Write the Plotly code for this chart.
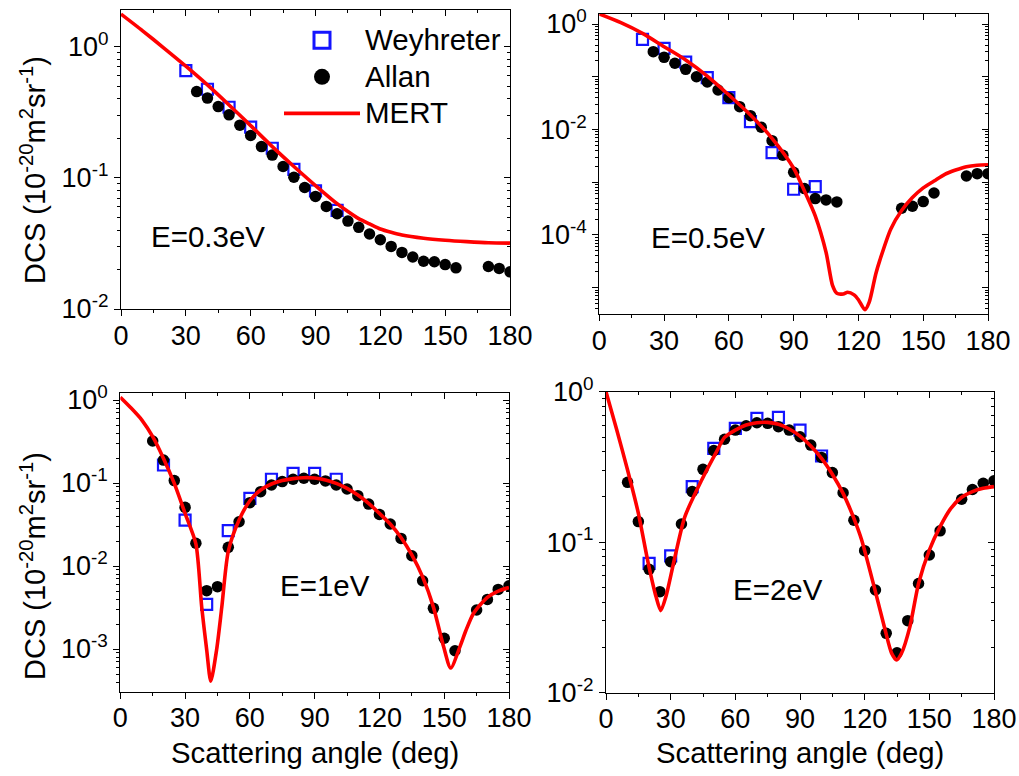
import plotly.graph_objects as go

W, H = 1019, 776
FONT = "Arial, Liberation Sans, sans-serif"

# ---------------- data ----------------
# E = 0.3 eV
w03_ang = [30, 40, 50, 60, 70, 80, 90, 100]
w03_dcs = [0.656, 0.473, 0.345, 0.243, 0.168, 0.116, 0.0796, 0.0564]
a03_ang = [35, 40, 45, 50, 55, 60, 65, 70, 75, 80, 85, 90, 95, 100, 105, 110, 115, 120,
           125, 130, 135, 140, 145, 150, 155, 170, 175, 180]
a03_dcs = [0.454, 0.405, 0.349, 0.302, 0.252, 0.210, 0.173, 0.149, 0.122, 0.101, 0.0844,
           0.0721, 0.0605, 0.0532, 0.0468, 0.0419, 0.0373, 0.0337, 0.0300, 0.0270, 0.0249,
           0.0231, 0.0229, 0.0218, 0.0206, 0.0211, 0.0204, 0.0192]
m03_ang = [0, 10, 20, 30, 40, 50, 60, 70, 80, 90, 100, 105, 110, 115, 120, 125, 130, 140,
           150, 160, 170, 180]
m03_dcs = [1.77, 1.32, 0.971, 0.71, 0.511, 0.359, 0.250, 0.173, 0.122, 0.0873, 0.0635,
           0.0553, 0.0488, 0.0445, 0.0407, 0.0384, 0.0366, 0.0346, 0.0334, 0.0326, 0.0320,
           0.0318]

# E = 0.5 eV
w05_ang = [20, 30, 40, 50, 60, 70, 80, 90, 100]
w05_dcs = [0.512, 0.346, 0.190, 0.0961, 0.0401, 0.0141, 0.00364, 7.34e-4, 8.24e-4]
a05_ang = [25, 30, 35, 40, 45, 50, 55, 60, 65, 70, 75, 80, 85, 90, 95, 100, 105, 110,
           140, 145, 150, 155, 170, 175, 180]
a05_dcs = [0.299, 0.233, 0.180, 0.138, 0.100, 0.0794, 0.0561, 0.0401, 0.0271, 0.0183,
           0.0110, 0.00614, 0.00324, 0.00154, 7.55e-4, 4.88e-4, 4.61e-4, 4.22e-4,
           3.20e-4, 3.50e-4, 4.29e-4, 6.25e-4, 1.31e-3, 1.45e-3, 1.45e-3]
m05_ang = [0, 10, 20, 30, 40, 50, 60, 70, 80, 90, 95, 100, 105, 108, 110, 113, 115, 118,
           120, 123, 125, 128, 130, 135, 140, 145, 150, 155, 160, 165, 170, 175, 180]
m05_dcs = [1.55, 1.06, 0.665, 0.372, 0.208, 0.103, 0.0451, 0.0188, 0.0068, 0.00184,
           6.8e-4, 2.3e-4, 4.7e-5, 1.1e-5, 7.8e-6, 7.6e-6, 8.2e-6, 7.3e-6, 5.9e-6, 3.8e-6,
           5.3e-6, 1.8e-5, 3.4e-5, 1.3e-4, 2.9e-4, 5.1e-4, 7.8e-4, 1.05e-3, 1.41e-3,
           1.70e-3, 1.97e-3, 2.10e-3, 2.14e-3]

# E = 1 eV
w1_ang = [20, 30, 40, 50, 60, 70, 80, 90, 100]
w1_dcs = [0.165, 0.0358, 3.45e-3, 0.0267, 0.0653, 0.111, 0.131, 0.131, 0.111]
a1_ang = [15, 20, 25, 30, 35, 40, 45, 50, 55, 60, 65, 70, 75, 80, 85, 90, 95, 100, 105,
          110, 115, 120, 125, 130, 135, 140, 145, 150, 155, 165, 170, 175, 180]
a1_dcs = [0.321, 0.189, 0.107, 0.0509, 0.0188, 5.05e-3, 5.64e-3, 0.0168, 0.0342, 0.0580,
          0.0787, 0.0946, 0.104, 0.111, 0.114, 0.111, 0.106, 0.0946, 0.0847, 0.0704,
          0.0558, 0.0419, 0.0321, 0.0215, 0.0133, 6.65e-3, 3.09e-3, 1.35e-3, 9.55e-4,
          2.95e-3, 3.96e-3, 5.23e-3, 5.79e-3]
m1_ang = [0, 5, 10, 15, 20, 25, 30, 35, 37.7, 40, 41.9, 44.6, 47, 50, 55, 60, 65, 70, 75,
          80, 85, 90, 95, 100, 105, 110, 115, 120, 125, 130, 135, 140, 145, 149.7, 153,
          157.3, 160, 163.6, 170, 175, 180]
m1_dcs = [1.08, 0.80, 0.574, 0.362, 0.198, 0.099, 0.0431, 0.0185, 3.2e-3, 9.8e-4, 4.1e-4,
          9.8e-4, 3.2e-3, 0.0150, 0.0358, 0.0612, 0.0824, 0.0973, 0.107, 0.113, 0.116,
          0.115, 0.109, 0.099, 0.0863, 0.0716, 0.0569, 0.0431, 0.0321, 0.0221, 0.0136,
          7.4e-3, 3.2e-3, 1.07e-3, 5.9e-4, 1.07e-3, 1.66e-3, 2.7e-3, 4.2e-3, 5.0e-3, 5.5e-3]

# E = 2 eV
w2_ang = [20, 30, 40, 50, 60, 70, 80, 90, 100]
w2_dcs = [0.0723, 0.081, 0.234, 0.420, 0.570, 0.665, 0.675, 0.556, 0.374]
a2_ang = [10, 15, 20, 25, 30, 35, 40, 45, 50, 55, 60, 65, 70, 75, 80, 85, 90, 95, 100,
          105, 110, 115, 120, 125, 130, 135, 140, 145, 150, 155, 165, 170, 175, 180]
a2_dcs = [0.250, 0.137, 0.0660, 0.0469, 0.0742, 0.132, 0.217, 0.305, 0.406, 0.483, 0.556,
          0.594, 0.622, 0.616, 0.585, 0.556, 0.502, 0.442, 0.366, 0.290, 0.213, 0.140,
          0.0879, 0.0481, 0.0248, 0.0184, 0.0301, 0.0532, 0.0822, 0.119, 0.193, 0.224,
          0.246, 0.256]
m2_ang = [0, 5, 10, 15, 19.6, 23.2, 25.4, 27.8, 32, 36.6, 44.4, 51.3, 55, 60, 65,
          70, 75, 80, 85, 90, 95, 100, 105, 110, 115, 118.6, 124.8, 129.5, 132.5, 134.8,
          137.1, 141, 145, 150, 155, 160, 165, 170, 175, 180]
m2_dcs = [1.0, 0.556, 0.302, 0.156, 0.0724, 0.0435, 0.0351, 0.0435, 0.080, 0.148,
          0.259, 0.40, 0.497, 0.556, 0.601, 0.622, 0.625, 0.607, 0.565, 0.507, 0.436,
          0.361, 0.283, 0.211, 0.144, 0.1035, 0.048, 0.0261, 0.0183, 0.0165, 0.0183,
          0.0275, 0.0532, 0.0887, 0.127, 0.168, 0.199, 0.217, 0.228, 0.234]

x_ticks = [0, 30, 60, 90, 120, 150, 180]
x_minor = [15, 45, 75, 105, 135, 165]
legend_names = ["Weyhreter", "Allan", "MERT"]

panels = [
    dict(w=(w03_ang, w03_dcs), a=(a03_ang, a03_dcs), m=(m03_ang, m03_dcs),
         label="E=0.3eV", yr=[-2, 0.279], dec=[0, -1, -2], labeled=[0, -1, -2],
         px=(121, 510), py=(10, 309), lab=(207.5, 236)),
    dict(w=(w05_ang, w05_dcs), a=(a05_ang, a05_dcs), m=(m05_ang, m05_dcs),
         label="E=0.5eV", yr=[-5.5, 0.19], dec=[0, -1, -2, -3, -4, -5], labeled=[0, -2, -4],
         px=(599.3, 988), py=(14, 314), lab=(707.5, 237)),
    dict(w=(w1_ang, w1_dcs), a=(a1_ang, a1_dcs), m=(m1_ang, m1_dcs),
         label="E=1eV", yr=[-3.514, 0.081], dec=[0, -1, -2, -3, -4], labeled=[0, -1, -2, -3],
         px=(120.3, 509), py=(393.3, 691.7), lab=(325, 585)),
    dict(w=(w2_ang, w2_dcs), a=(a2_ang, a2_dcs), m=(m2_ang, m2_dcs),
         label="E=2eV", yr=[-2, 0], dec=[0, -1, -2], labeled=[0, -1, -2],
         px=(606, 994), py=(391.7, 692.7), lab=(778, 589)),
]

BLUE = "#1414ff"
RED = "#ff0000"

fig = go.Figure()
annotations = []
layout = {}

for i, p in enumerate(panels):
    n = i + 1
    xa = "x" if n == 1 else f"x{n}"
    ya = "y" if n == 1 else f"y{n}"
    xk = "xaxis" if n == 1 else f"xaxis{n}"
    yk = "yaxis" if n == 1 else f"yaxis{n}"
    oxa, oya = f"x{n + 4}", f"y{n + 4}"
    oxk, oyk = f"xaxis{n + 4}", f"yaxis{n + 4}"

    fig.add_trace(go.Scatter(
        x=p["w"][0], y=p["w"][1], mode="markers", name="Weyhreter", showlegend=False,
        marker=dict(symbol="square-open", size=11, color=BLUE, line=dict(width=2.2, color=BLUE)),
        xaxis=xa, yaxis=ya))
    fig.add_trace(go.Scatter(
        x=p["a"][0], y=p["a"][1], mode="markers", name="Allan", showlegend=False,
        marker=dict(symbol="circle", size=11.5, color="black"),
        xaxis=xa, yaxis=ya))
    # theory curve on the overlaid (mirror) axes pair -> same scale, drawn on top
    fig.add_trace(go.Scatter(
        x=p["m"][0], y=p["m"][1], mode="lines", name="MERT", showlegend=False,
        line=dict(color=RED, width=3.6, shape="spline", smoothing=0.7),
        xaxis=oxa, yaxis=oya))

    xd = [p["px"][0] / W, p["px"][1] / W]
    yd = [1 - p["py"][1] / H, 1 - p["py"][0] / H]

    yvals = [10.0 ** d for d in p["dec"]]
    ytext = [(f"10<sup>{d}</sup>" if d in p["labeled"] else "") for d in p["dec"]]
    yminor = []
    for d in p["dec"]:
        for k in range(2, 10):
            yminor.append(k * 10.0 ** (d - 1))

    common_x = dict(range=[0, 180], tickmode="array", tickvals=x_ticks, showgrid=False,
                    zeroline=False, tickcolor="black", tickwidth=1.3, ticklen=6,
                    linecolor="black", linewidth=1.3, automargin=False)
    common_y = dict(type="log", range=p["yr"], tickmode="array", tickvals=yvals,
                    showgrid=False, zeroline=False,
                    tickcolor="black", tickwidth=1.3, ticklen=6,
                    linecolor="black", linewidth=1.3, automargin=False)

    layout[xk] = dict(domain=xd, anchor=ya, ticks="outside", showline=True, mirror=True,
                      ticktext=[str(v) for v in x_ticks], ticklabelstandoff=-4,
                      tickfont=dict(family=FONT, size=27, color="black"),
                      minor=dict(tickmode="array", tickvals=x_minor, ticks="outside", ticklen=3,
                                 tickwidth=1.3, tickcolor="black", showgrid=False),
                      **common_x)
    layout[yk] = dict(domain=yd, anchor=xa, ticks="outside", showline=True, mirror=True,
                      ticktext=ytext,
                      tickfont=dict(family=FONT, size=27, color="black"),
                      minor=dict(tickmode="array", tickvals=yminor, ticks="outside", ticklen=3,
                                 tickwidth=1.3, tickcolor="black", showgrid=False),
                      **common_y)
    layout[oxk] = dict(overlaying=xa, side="top", anchor=oya, ticks="inside",
                       showticklabels=False, showline=False,
                       minor=dict(tickmode="array", tickvals=x_minor, ticks="inside", ticklen=3,
                                  tickwidth=1.3, tickcolor="black", showgrid=False),
                       **common_x)
    layout[oyk] = dict(overlaying=ya, side="right", anchor=oxa, ticks="inside",
                       showticklabels=False, showline=False,
                       minor=dict(tickmode="array", tickvals=yminor, ticks="inside", ticklen=3,
                                  tickwidth=1.3, tickcolor="black", showgrid=False),
                       **common_y)

    annotations.append(dict(text=p["label"], x=p["lab"][0] / W, y=1 - p["lab"][1] / H,
                            xref="paper", yref="paper", showarrow=False,
                            xanchor="center", yanchor="middle",
                            font=dict(family=FONT, size=29.5, color="black")))

# legend entries (symbols only carry the style; no data)
LEG_SPAN = '<span style="font-size:29.5px">{}</span>'
fig.add_trace(go.Scatter(x=[None], y=[None], mode="markers", name=LEG_SPAN.format(legend_names[0]),
                         marker=dict(symbol="square-open", size=16, color=BLUE,
                                     line=dict(width=3, color=BLUE))))
fig.add_trace(go.Scatter(x=[None], y=[None], mode="markers", name=LEG_SPAN.format(legend_names[1]),
                         marker=dict(symbol="circle", size=16, color="black")))
fig.add_trace(go.Scatter(x=[None], y=[None], mode="lines", name=LEG_SPAN.format(legend_names[2]),
                         line=dict(color=RED, width=3.6)))

ytitle = "DCS (10<sup>-20</sup>m<sup>2</sup>sr<sup>-1</sup>)"
for yc in (170, 566):
    annotations.append(dict(text=ytitle, x=33 / W, y=1 - yc / H, xref="paper", yref="paper",
                            showarrow=False, textangle=-90, xanchor="center", yanchor="middle",
                            font=dict(family=FONT, size=29, color="black")))
for xc in (314.5, 800):
    annotations.append(dict(text="Scattering angle (deg)", x=xc / W, y=1 - 752 / H,
                            xref="paper", yref="paper", showarrow=False,
                            xanchor="center", yanchor="middle",
                            font=dict(family=FONT, size=29.3, color="black")))

fig.update_layout(
    width=W, height=H,
    margin=dict(l=0, r=0, t=0, b=0, autoexpand=False),
    paper_bgcolor="white", plot_bgcolor="white",
    showlegend=True,
    legend=dict(x=279 / W, y=1 - 17 / H, xanchor="left", yanchor="top",
                bgcolor="rgba(0,0,0,0)", borderwidth=0,
                font=dict(family=FONT, size=25.8, color="black"),
                itemwidth=76, tracegroupgap=0),
    annotations=annotations,
    **layout,
)

fig.write_html("out.html")
